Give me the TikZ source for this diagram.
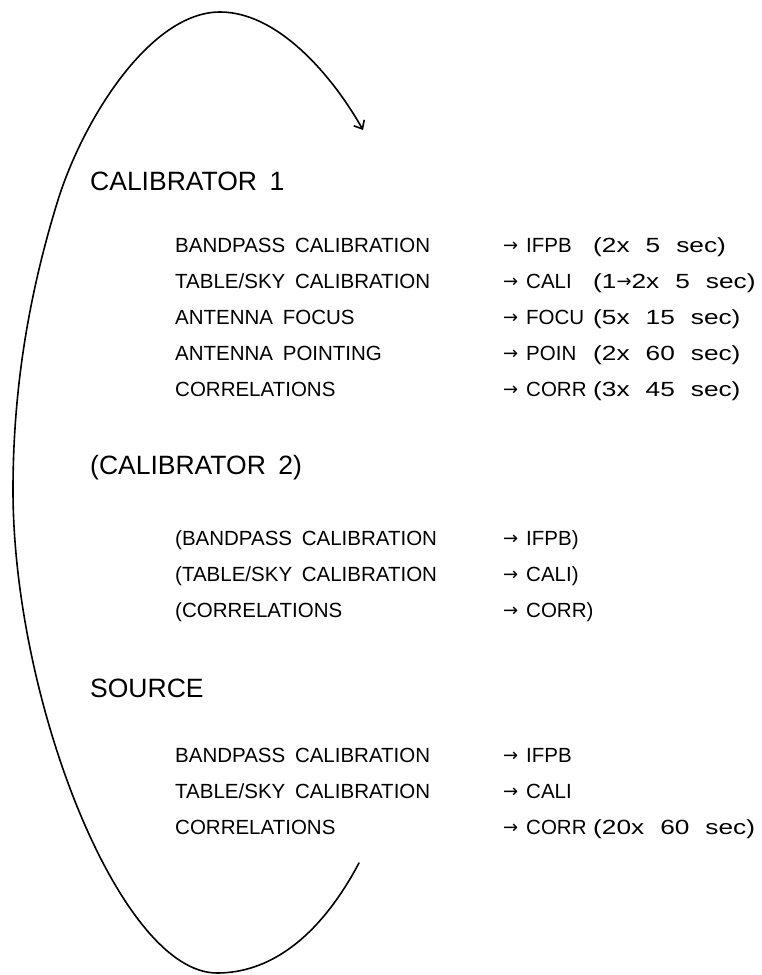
\documentclass[tikz,border=0pt]{standalone}
\usepackage{fontspec}
\setmainfont{Liberation Sans}[WordSpace=1.7]
\newfontfamily\arrowfont{DejaVu Sans}
\newfontfamily\durfont{Liberation Sans}[WordSpace=2.2,FakeStretch=1.28]
\newcommand\rar{{\arrowfont\fontsize{18}{20}\selectfont\raisebox{0.8pt}{→}}}
\newcommand\tgt[1]{\makebox[23pt][l]{\rar}#1}
\usetikzlibrary{arrows.meta}
\begin{document}
\begin{tikzpicture}[x=1pt,y=-1pt,
  head/.style={anchor=base west,inner sep=0pt,font=\fontsize{26.5}{30}\selectfont},
  item/.style={anchor=base west,inner sep=0pt,font=\fontsize{20.5}{24}\selectfont},
  dur/.style={anchor=base west,inner sep=0pt,font=\durfont\fontsize{20.5}{24}\selectfont},
  loop/.style={line width=1.6pt,line cap=round,-{Straight Barb[length=7pt,width=12pt,line width=1.6pt]}}]
\useasboundingbox (0,0) rectangle (762,975);
% loop curve
\coordinate (cs) at (359,863);
\coordinate (cb) at (217,973);
\coordinate (cl) at (13,490);
\coordinate (cm) at (58,200);
\coordinate (ct) at (220,12);
\coordinate (ce) at (363,130);
\draw[loop] (cs) .. controls (318,940) and (268,973) .. (cb)
  .. controls (120,973) and (13,700) .. (cl)
  .. controls (13,390) and (28.5,295) .. (cm)
  .. controls (83,120) and (150,12) .. (ct)
  .. controls (280,12) and (335,80) .. (ce);
% Calibrator 1
\node[head] (h1) at (90,190) {CALIBRATOR 1};
\node[item] (a1) at (175,252) {BANDPASS CALIBRATION};
\node[item] (b1) at (503,252) {\tgt{IFPB}};
\node[dur]  (c1) at (593,252) {(2x 5 sec)};
\node[item] (a2) at (175,288) {TABLE/SKY CALIBRATION};
\node[item] (b2) at (503,288) {\tgt{CALI}};
\node[dur]  (c2) at (593,288) {(1\rar2x 5 sec)};
\node[item] (a3) at (175,324) {ANTENNA FOCUS};
\node[item] (b3) at (503,324) {\tgt{FOCU}};
\node[dur]  (c3) at (593,324) {(5x 15 sec)};
\node[item] (a4) at (175,360) {ANTENNA POINTING};
\node[item] (b4) at (503,360) {\tgt{POIN}};
\node[dur]  (c4) at (593,360) {(2x 60 sec)};
\node[item] (a5) at (175,396) {CORRELATIONS};
\node[item] (b5) at (503,396) {\tgt{CORR}};
\node[dur]  (c5) at (593,396) {(3x 45 sec)};
% Calibrator 2
\node[head] (h2) at (90,474) {(CALIBRATOR 2)};
\node[item] (d1) at (175,545) {(BANDPASS CALIBRATION};
\node[item] (e1) at (503,545) {\tgt{IFPB)}};
\node[item] (d2) at (175,581) {(TABLE/SKY CALIBRATION};
\node[item] (e2) at (503,581) {\tgt{CALI)}};
\node[item] (d3) at (175,617) {(CORRELATIONS};
\node[item] (e3) at (503,617) {\tgt{CORR)}};
% Source
\node[head] (h3) at (90,697) {SOURCE};
\node[item] (f1) at (175,762) {BANDPASS CALIBRATION};
\node[item] (g1) at (503,762) {\tgt{IFPB}};
\node[item] (f2) at (175,798) {TABLE/SKY CALIBRATION};
\node[item] (g2) at (503,798) {\tgt{CALI}};
\node[item] (f3) at (175,834) {CORRELATIONS};
\node[item] (g3) at (503,834) {\tgt{CORR}};
\node[dur]  (k3) at (593,834) {(20x 60 sec)};
\end{tikzpicture}
\end{document}
